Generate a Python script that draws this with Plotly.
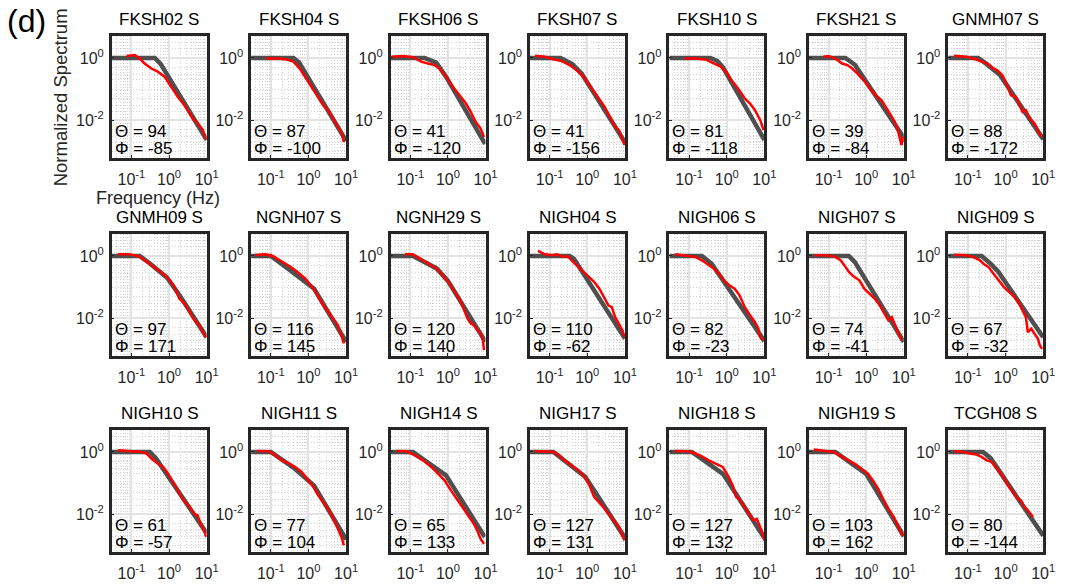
import plotly.graph_objects as go

# Station panels, row by row (7 per row)
STATIONS = [
    "FKSH02 S", "FKSH04 S", "FKSH06 S", "FKSH07 S", "FKSH10 S", "FKSH21 S", "GNMH07 S",
    "GNMH09 S", "NGNH07 S", "NGNH29 S", "NIGH04 S", "NIGH06 S", "NIGH07 S", "NIGH09 S",
    "NIGH10 S", "NIGH11 S", "NIGH14 S", "NIGH17 S", "NIGH18 S", "NIGH19 S", "TCGH08 S",
]
THETA = [94, 87, 41, 41, 81, 39, 88,
         97, 116, 120, 110, 82, 74, 67,
         61, 77, 65, 127, 127, 103, 80]
PHI = [-85, -100, -120, -156, -118, -84, -172,
       171, 145, 140, -62, -23, -41, -32,
       -57, 104, 133, 131, 132, 162, -144]

# Model spectra (gray), log10 frequency [Hz] and log10 normalized amplitude
GRAY_LOGF = [
    [-1.53, -0.38, -0.22, 1.0],
    [-1.53, -0.40, -0.25, 1.0],
    [-1.53, -0.62, -0.31, -0.05, 0.99],
    [-1.53, -0.71, -0.40, -0.15, 1.0],
    [-1.53, -0.43, -0.25, -0.10, 1.0],
    [-1.53, -0.55, -0.30, 1.0],
    [-1.53, -0.73, -0.50, -0.15, 1.0],
    [-1.53, -0.78, -0.50, -0.05, 0.30, 1.0],
    [-1.53, -1.00, -0.50, 0.15, 1.0],
    [-1.53, -0.93, -0.30, 0.00, 1.0],
    [-1.53, -0.47, -0.35, 1.0],
    [-1.53, -0.66, -0.40, 1.0],
    [-1.53, -0.46, -0.30, 1.0],
    [-1.53, -0.64, -0.40, -0.20, 1.0],
    [-1.53, -0.51, -0.35, 1.0],
    [-1.53, -1.00, -0.40, 0.15, 1.0],
    [-1.53, -0.93, -0.05, 0.98],
    [-1.53, -0.90, -0.05, 1.0],
    [-1.53, -0.93, -0.10, 1.0],
    [-1.53, -0.82, 0.00, 1.0],
    [-1.53, -0.60, -0.40, 1.0],
]
GRAY_LOGA = [
    [0, 0, -0.20, -2.62],
    [0, 0, -0.15, -2.65],
    [0, 0, -0.15, -0.60, -2.75],
    [0, 0, -0.20, -0.50, -2.70],
    [0, 0, -0.10, -0.30, -2.62],
    [0, 0, -0.22, -2.55],
    [0, 0, -0.20, -0.55, -2.60],
    [0, 0, -0.25, -0.70, -1.30, -2.60],
    [0, 0, -0.45, -1.05, -2.75],
    [0, 0, -0.40, -0.80, -2.75],
    [0, 0, -0.10, -2.64],
    [0, 0, -0.25, -2.72],
    [0, 0, -0.20, -2.75],
    [0, 0, -0.25, -0.50, -2.60],
    [0, 0, -0.20, -2.60],
    [0, 0, -0.50, -1.08, -2.80],
    [0, 0, -0.75, -2.72],
    [0, 0, -0.80, -2.75],
    [0, 0, -0.70, -2.75],
    [0, 0, -0.70, -2.70],
    [0, 0, -0.20, -2.68],
]

# Observed spectra (red), log10 frequency [Hz] and log10 normalized amplitude
RED_LOGF = [
    [-1.13, -0.91, -0.78, -0.65, -0.47, -0.30, -0.12, 0.06, 0.23, 0.41, 0.54, 0.65, 0.74, 0.83, 0.90, 0.95, 0.99],
    [-1.14, -0.79, -0.58, -0.40, -0.23, -0.09, 0.04, 0.21, 0.39, 0.52, 0.65, 0.78, 0.89, 0.94],
    [-1.49, -1.19, -0.93, -0.71, -0.53, -0.36, -0.23, -0.05, 0.13, 0.30, 0.48, 0.61, 0.74, 0.87, 0.96],
    [-1.39, -1.13, -0.89, -0.71, -0.47, -0.29, -0.10, 0.09, 0.27, 0.46, 0.60, 0.74, 0.84, 0.93, 0.99],
    [-1.13, -0.84, -0.57, -0.34, -0.16, -0.02, 0.12, 0.30, 0.48, 0.62, 0.75, 0.89, 0.98],
    [-1.14, -1.00, -0.82, -0.64, -0.50, -0.37, -0.23, -0.05, 0.14, 0.27, 0.41, 0.54, 0.64, 0.73, 0.82, 0.88, 0.94, 0.97, 1.0],
    [-1.37, -1.05, -0.78, -0.50, -0.32, -0.23, -0.09, 0.04, 0.14, 0.27, 0.36, 0.45, 0.54, 0.64, 0.77, 0.86, 0.95],
    [-1.36, -1.08, -0.82, -0.65, -0.47, -0.30, -0.12, 0.01, 0.14, 0.27, 0.41, 0.54, 0.67, 0.80, 0.89, 0.97],
    [-1.41, -1.14, -0.93, -0.71, -0.49, -0.31, -0.09, 0.13, 0.26, 0.39, 0.52, 0.65, 0.78, 0.89, 0.94],
    [-1.14, -0.93, -0.75, -0.53, -0.31, -0.14, 0.04, 0.21, 0.34, 0.43, 0.52, 0.61, 0.69, 0.78, 0.87, 0.93, 0.96],
    [-1.31, -1.13, -0.94, -0.80, -0.66, -0.52, -0.38, -0.24, -0.10, 0.04, 0.18, 0.32, 0.46, 0.56, 0.65, 0.74, 0.84, 0.93, 0.99],
    [-1.37, -1.11, -0.84, -0.66, -0.48, -0.34, -0.20, -0.07, 0.07, 0.21, 0.34, 0.48, 0.62, 0.75, 0.84, 0.89, 0.96],
    [-1.37, -1.05, -0.82, -0.68, -0.55, -0.46, -0.32, -0.18, -0.05, 0.09, 0.23, 0.36, 0.50, 0.59, 0.68, 0.77, 0.86, 0.94],
    [-1.37, -1.05, -0.87, -0.68, -0.59, -0.46, -0.32, -0.18, -0.05, 0.09, 0.23, 0.36, 0.45, 0.54, 0.59, 0.68, 0.77, 0.86, 0.91, 0.97],
    [-1.36, -1.08, -0.73, -0.60, -0.47, -0.30, -0.16, -0.03, 0.10, 0.23, 0.36, 0.54, 0.67, 0.76, 0.84, 0.93, 0.99],
    [-1.36, -1.06, -0.88, -0.71, -0.53, -0.36, -0.18, -0.01, 0.13, 0.26, 0.39, 0.52, 0.65, 0.74, 0.83, 0.89, 0.94],
    [-1.36, -1.10, -0.88, -0.66, -0.44, -0.27, -0.09, 0.08, 0.26, 0.39, 0.48, 0.61, 0.69, 0.78, 0.87, 0.96],
    [-1.41, -1.13, -0.89, -0.75, -0.61, -0.43, -0.24, -0.10, 0.04, 0.18, 0.27, 0.42, 0.56, 0.70, 0.84, 0.95, 0.99],
    [-1.38, -1.02, -0.84, -0.66, -0.48, -0.29, -0.11, 0.03, 0.16, 0.25, 0.34, 0.44, 0.53, 0.62, 0.71, 0.80, 0.89, 0.96, 1.0],
    [-1.39, -1.14, -0.87, -0.64, -0.46, -0.28, -0.09, 0.04, 0.18, 0.32, 0.45, 0.59, 0.73, 0.86, 0.95, 1.0],
    [-1.37, -1.14, -0.96, -0.78, -0.64, -0.50, -0.37, -0.23, -0.09, 0.04, 0.18, 0.32, 0.41, 0.50, 0.59, 0.68, 0.73],
]
RED_LOGA = [
    [0.06, 0.09, -0.02, -0.18, -0.34, -0.44, -0.60, -0.92, -1.24, -1.51, -1.78, -1.97, -2.05, -2.21, -2.31, -2.51, -2.61],
    [-0.02, -0.02, -0.05, -0.12, -0.34, -0.60, -0.87, -1.19, -1.51, -1.67, -1.94, -2.21, -2.42, -2.69],
    [0.04, 0.06, 0.02, -0.12, -0.18, -0.23, -0.34, -0.60, -0.92, -1.19, -1.46, -1.73, -2.05, -2.26, -2.53],
    [0.07, 0.04, -0.05, -0.09, -0.23, -0.39, -0.60, -0.92, -1.24, -1.57, -1.89, -2.21, -2.31, -2.58, -2.79],
    [-0.02, -0.02, -0.05, -0.18, -0.28, -0.44, -0.71, -0.98, -1.30, -1.46, -1.67, -1.99, -2.31],
    [0.04, 0.06, -0.02, -0.18, -0.23, -0.34, -0.50, -0.74, -1.04, -1.22, -1.36, -1.62, -1.80, -1.98, -2.21, -2.53, -2.79, -2.53, -2.69],
    [0.07, 0.04, -0.05, -0.18, -0.34, -0.39, -0.55, -0.87, -1.19, -1.24, -1.46, -1.73, -1.67, -1.94, -2.10, -2.31, -2.53],
    [0.05, 0.05, 0.0, -0.13, -0.29, -0.45, -0.61, -0.77, -0.98, -1.36, -1.52, -1.78, -2.05, -2.21, -2.43, -2.61],
    [0.03, 0.05, -0.02, -0.18, -0.34, -0.50, -0.72, -1.04, -1.30, -1.57, -1.78, -2.00, -2.21, -2.59, -2.80],
    [0.05, 0.05, -0.08, -0.24, -0.40, -0.61, -0.88, -1.20, -1.46, -1.73, -2.00, -2.16, -2.21, -2.37, -2.48, -2.69, -3.01],
    [0.16, 0.05, 0.02, 0.05, -0.03, -0.01, -0.19, -0.35, -0.51, -0.67, -0.83, -1.05, -1.37, -1.58, -1.64, -1.96, -2.17, -2.38, -2.60],
    [0.05, 0.02, -0.03, -0.14, -0.30, -0.41, -0.57, -0.78, -0.94, -1.05, -1.26, -1.64, -1.90, -2.12, -2.33, -2.60, -2.70],
    [0.02, 0.02, -0.03, -0.14, -0.35, -0.51, -0.67, -0.78, -1.05, -1.21, -1.37, -1.58, -1.85, -2.06, -1.96, -2.22, -2.44, -2.70],
    [0.04, 0.02, -0.03, -0.14, -0.25, -0.35, -0.57, -0.78, -0.99, -1.15, -1.31, -1.53, -1.74, -1.96, -2.44, -2.33, -2.49, -2.65, -2.86, -2.97],
    [0.05, 0.02, 0.0, -0.05, -0.21, -0.37, -0.48, -0.69, -0.96, -1.23, -1.50, -1.76, -1.98, -2.03, -2.30, -2.51, -2.72],
    [0.03, 0.02, -0.11, -0.27, -0.37, -0.48, -0.64, -0.91, -1.12, -1.39, -1.60, -1.82, -2.10, -2.34, -2.58, -2.76, -2.99],
    [0.03, 0.02, -0.11, -0.27, -0.48, -0.69, -0.91, -1.23, -1.55, -1.76, -1.92, -2.14, -2.30, -2.51, -2.78, -2.94],
    [0.03, 0.02, 0.0, -0.11, -0.27, -0.43, -0.59, -0.75, -1.02, -1.44, -1.55, -1.76, -1.98, -2.19, -2.40, -2.72, -2.83],
    [0.03, 0.02, -0.05, -0.14, -0.27, -0.37, -0.48, -0.75, -1.07, -1.44, -1.50, -1.71, -1.87, -2.03, -2.19, -2.14, -2.40, -2.62, -2.83],
    [0.08, 0.05, 0.0, -0.16, -0.27, -0.40, -0.57, -0.69, -0.91, -1.18, -1.50, -1.82, -2.08, -2.40, -2.62, -2.67],
    [0.02, 0.0, -0.05, -0.08, -0.16, -0.27, -0.32, -0.53, -0.75, -1.02, -1.28, -1.50, -1.55, -1.76, -1.87, -2.03, -2.08],
]

# Tick labels
X_TICKS = [0.1, 1, 10]
X_TICKTEXT = ["10<sup>-1</sup>", "10<sup>0</sup>", "10<sup>1</sup>"]
Y_TICKS = [0.01, 1]
Y_TICKTEXT = ["10<sup>-2</sup>", "10<sup>0</sup>"]

# Panel geometry in pixels (page is 1075 x 585)
W, H = 1075, 585
LEFT0, STEP_X, PANEL_W = 113, 141, 96
ROW_TOPS, PANEL_H = [36, 234, 430], 122
FONT = "Liberation Sans, Arial, Helvetica, sans-serif"
TXT = "#262626"

# Dotted horizontal minor grid levels (unlabelled)
Y_MINOR = [m * 10.0 ** e for e in range(-4, 1) for m in (1, 2, 3, 5)
           if not (m == 1 and e in (-2, 0))]

fig = go.Figure()
layout = {}
annotations = []

for i, name in enumerate(STATIONS):
    r, c = divmod(i, 7)
    k = "" if i == 0 else str(i + 1)
    x0 = LEFT0 + c * STEP_X
    top = ROW_TOPS[r]
    xdom = [x0 / W, (x0 + PANEL_W) / W]
    ydom = [1 - (top + PANEL_H) / H, 1 - top / H]

    common = dict(
        type="log", showline=True, mirror=True, linecolor=TXT, linewidth=2.5,
        showgrid=True, gridcolor="#e3e3e3", gridwidth=1.5, zeroline=False,
        ticks="inside", ticklen=3, tickcolor=TXT,
        tickfont=dict(family=FONT, size=16, color=TXT),
    )
    layout["xaxis" + k] = dict(
        common, domain=xdom, anchor="y" + k, range=[-1.523, 1.0],
        tickvals=X_TICKS, ticktext=X_TICKTEXT, ticklabelstandoff=5,
        minor=dict(dtick="D1", showgrid=True, gridcolor="#d2d2d2",
                   griddash="1px,2px", gridwidth=1, ticks=""),
    )
    layout["yaxis" + k] = dict(
        common, domain=ydom, anchor="x" + k, range=[-3.2, 0.7],
        tickvals=Y_TICKS, ticktext=Y_TICKTEXT, ticklabelstandoff=2,
        minor=dict(tickmode="array", tickvals=Y_MINOR, showgrid=True,
                   gridcolor="#d2d2d2", griddash="1px,2px", gridwidth=1, ticks=""),
    )

    fig.add_trace(go.Scatter(
        x=[10 ** v for v in GRAY_LOGF[i]], y=[10 ** v for v in GRAY_LOGA[i]],
        mode="lines", line=dict(color="#4f4f4f", width=4.5),
        xaxis="x" + k, yaxis="y" + k, showlegend=False, hoverinfo="skip"))
    fig.add_trace(go.Scatter(
        x=[10 ** v for v in RED_LOGF[i]], y=[10 ** v for v in RED_LOGA[i]],
        mode="lines", line=dict(color="#ff0000", width=2.5),
        xaxis="x" + k, yaxis="y" + k, showlegend=False, hoverinfo="skip"))

    annotations.append(dict(
        text=name, xref="paper", yref="paper",
        x=(x0 + PANEL_W / 2) / W, y=1 - (top - 5) / H,
        xanchor="center", yanchor="bottom", showarrow=False,
        font=dict(family=FONT, size=17, color="#000000")))
    annotations.append(dict(
        text=f"\u0398 = {THETA[i]}", xref="x" + k + " domain", yref="y" + k + " domain",
        x=0.01, y=0.215, xanchor="left", yanchor="middle", showarrow=False,
        font=dict(family=FONT, size=17, color="#000000")))
    annotations.append(dict(
        text=f"\u03A6 = {PHI[i]}", xref="x" + k + " domain", yref="y" + k + " domain",
        x=0.01, y=0.08, xanchor="left", yanchor="middle", showarrow=False,
        font=dict(family=FONT, size=17, color="#000000")))

annotations += [
    dict(text="Normalized Spectrum", xref="paper", yref="paper",
         x=62 / W, y=1 - 97 / H, textangle=-90, showarrow=False,
         xanchor="center", yanchor="middle",
         font=dict(family=FONT, size=18.5, color=TXT)),
    dict(text="Frequency (Hz)", xref="paper", yref="paper",
         x=160 / W, y=1 - 198 / H, showarrow=False,
         xanchor="center", yanchor="middle",
         font=dict(family=FONT, size=18, color=TXT)),
    dict(text="(d)", xref="paper", yref="paper",
         x=27 / W, y=1 - 21 / H, showarrow=False,
         xanchor="center", yanchor="middle",
         font=dict(family=FONT, size=32, color="#000000")),
]

fig.update_layout(
    width=W, height=H, margin=dict(l=0, r=0, t=0, b=0),
    paper_bgcolor="white", plot_bgcolor="white",
    annotations=annotations, **layout)

fig.write_html("out.html")
